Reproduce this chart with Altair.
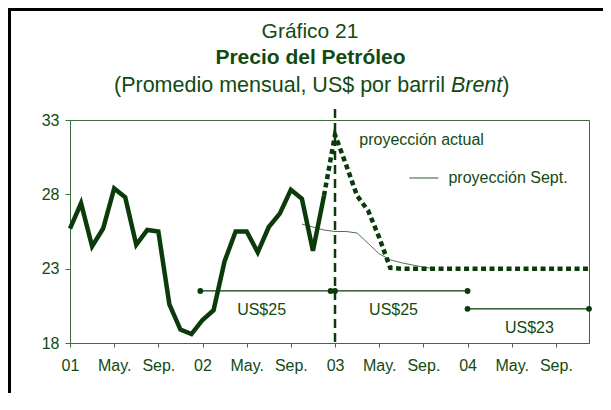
import altair as alt
import pandas as pd

# ---------------- data (month index: 0 = Jan 2001) ----------------
hist_months = list(range(0, 24))
hist_values = [25.7, 27.4, 24.5, 25.7, 28.4, 27.8, 24.6, 25.6, 25.5, 20.6, 18.9, 18.6,
               19.55, 20.2, 23.5, 25.5, 25.5, 24.1, 25.8, 26.7, 28.3, 27.7, 24.2, 27.9]

proj_months = list(range(23, 48))
proj_values = [27.9, 32.0, 30.0, 27.9, 26.9, 25.1, 23.05] + [23.0] * 18

sept_months = list(range(21, 34))
sept_values = [26.0, 25.8, 25.6, 25.5, 25.5, 25.4, 24.7, 24.0, 23.6, 23.4, 23.25, 23.1, 23.0]

seg_start = [11.8, 24.0, 36.0]
seg_end = [23.6, 36.0, 47.0]
seg_level = [21.5, 21.5, 20.3]

seg_labels = ["US$25", "US$25", "US$23"]
seg_label_x = [17.35, 29.3, 41.6]
seg_label_y = [20.2, 20.2, 19.0]

tick_values = list(range(0, 48, 4))
tick_labels = ["01", "May.", "Sep.", "02", "May.", "Sep.", "03", "May.", "Sep.", "04", "May.", "Sep."]
y_ticks = [18, 23, 28, 33]

# ---------------- styling ----------------
FONT = "Liberation Sans"
DARK = "#0b3b0b"
TXT = "#124a12"
AXIS = "#3d6b3d"
THIN = "#4f734f"
W, H = 519, 223

hist_df = pd.DataFrame({"m": hist_months, "v": hist_values})
proj_df = pd.DataFrame({"m": proj_months, "v": proj_values})
sept_df = pd.DataFrame({"m": sept_months, "v": sept_values})
seg_df = pd.DataFrame({"s": seg_start, "e": seg_end, "v": seg_level})
dots_df = pd.DataFrame({"m": seg_start + seg_end, "v": seg_level + seg_level})
lab_df = pd.DataFrame({"m": seg_label_x, "v": seg_label_y, "t": seg_labels})

label_expr = "[" + ",".join("'" + t + "'" for t in tick_labels) + "][datum.value / 4]"

xs = alt.Scale(domain=[0, 47], nice=False, zero=False)
ys = alt.Scale(domain=[18, 33], nice=False, zero=False)

x_axis = alt.Axis(values=tick_values, labelExpr=label_expr, title=None, grid=False,
                  tickSize=4, labelPadding=10, labelFontSize=16, labelFont=FONT,
                  labelColor=TXT, domainColor=AXIS, tickColor=AXIS, labelFlush=False)
y_axis = alt.Axis(values=y_ticks, title=None, grid=False, tickSize=5, labelPadding=6,
                  labelFontSize=16, labelFont=FONT, labelColor=TXT,
                  domainColor=AXIS, tickColor=AXIS)

X = lambda f: alt.X(f, type="quantitative", scale=xs, axis=x_axis)
Y = lambda f: alt.Y(f, type="quantitative", scale=ys, axis=y_axis)

one = pd.DataFrame({"k": [0]})

frame = alt.Chart(one).mark_rect(filled=False, stroke="black", strokeWidth=3).encode(
    x=alt.value(-60.5), x2=alt.value(W + 100), y=alt.value(-110.5), y2=alt.value(H + 150))

hist = alt.Chart(hist_df).mark_line(color=DARK, strokeWidth=4.5).encode(x=X("m"), y=Y("v"))
proj = alt.Chart(proj_df).mark_line(color=DARK, strokeWidth=4.5, strokeDash=[5, 3.5]).encode(
    x=X("m"), y=Y("v"))
sept = alt.Chart(sept_df).mark_line(color=THIN, strokeWidth=1).encode(x=X("m"), y=Y("v"))

segs = alt.Chart(seg_df).mark_rule(color=DARK, strokeWidth=1.3).encode(
    x=X("s"), x2="e", y=Y("v"))
dots = alt.Chart(dots_df).mark_circle(color=DARK, size=34, opacity=1).encode(x=X("m"), y=Y("v"))
labs = alt.Chart(lab_df).mark_text(font=FONT, fontSize=16, color=TXT).encode(
    x=X("m"), y=Y("v"), text="t:N")

vline = alt.Chart(pd.DataFrame({"m": [24]})).mark_rule(
    color=DARK, strokeWidth=2.5, strokeDash=[9, 5]).encode(
    x=X("m"), y=alt.value(-11), y2=alt.value(H))

ann_df = pd.DataFrame({"m": [26.2, 34.27], "v": [31.65, 29.1],
                       "t": ["proyección actual", "proyección Sept."]})
ann = alt.Chart(ann_df).mark_text(font=FONT, fontSize=16, color=TXT, align="left").encode(
    x=X("m"), y=Y("v"), text="t:N")
leg = alt.Chart(pd.DataFrame({"s": [30.73], "e": [33.36], "v": [29.1]})).mark_rule(
    color=THIN, strokeWidth=1.2).encode(x=X("s"), x2="e", y=Y("v"))


def ptext(txt, x, y, size, align="center", weight="normal", style="normal"):
    return alt.Chart(one).mark_text(text=txt, font=FONT, fontSize=size, color=TXT,
                                    align=align, baseline="alphabetic",
                                    fontWeight=weight, fontStyle=style).encode(
        x=alt.value(x), y=alt.value(y))


t1 = ptext("Gráfico 21", 240, -82, 21)
t2 = ptext("Precio del Petróleo", 240.5, -56, 21, weight="bold")
t3a = ptext("(Promedio mensual, US$ por barril", 44, -28, 21.5, align="left")
t3b = ptext("Brent", 380.9, -28, 21.5, align="left", style="italic")
t3c = ptext(")", 432.3, -28, 21.5, align="left")

chart = alt.layer(frame, segs, dots, labs, sept, hist, proj, vline, ann, leg,
                  t1, t2, t3a, t3b, t3c).properties(
    width=W, height=H,
    autosize=alt.AutoSizeParams(type="none"),
    padding={"left": 62, "top": 112, "right": 14, "bottom": 50},
    background="white",
).configure_view(stroke=AXIS, strokeWidth=1)

chart.save("out.html", embed_options={"renderer": "svg", "actions": False})
